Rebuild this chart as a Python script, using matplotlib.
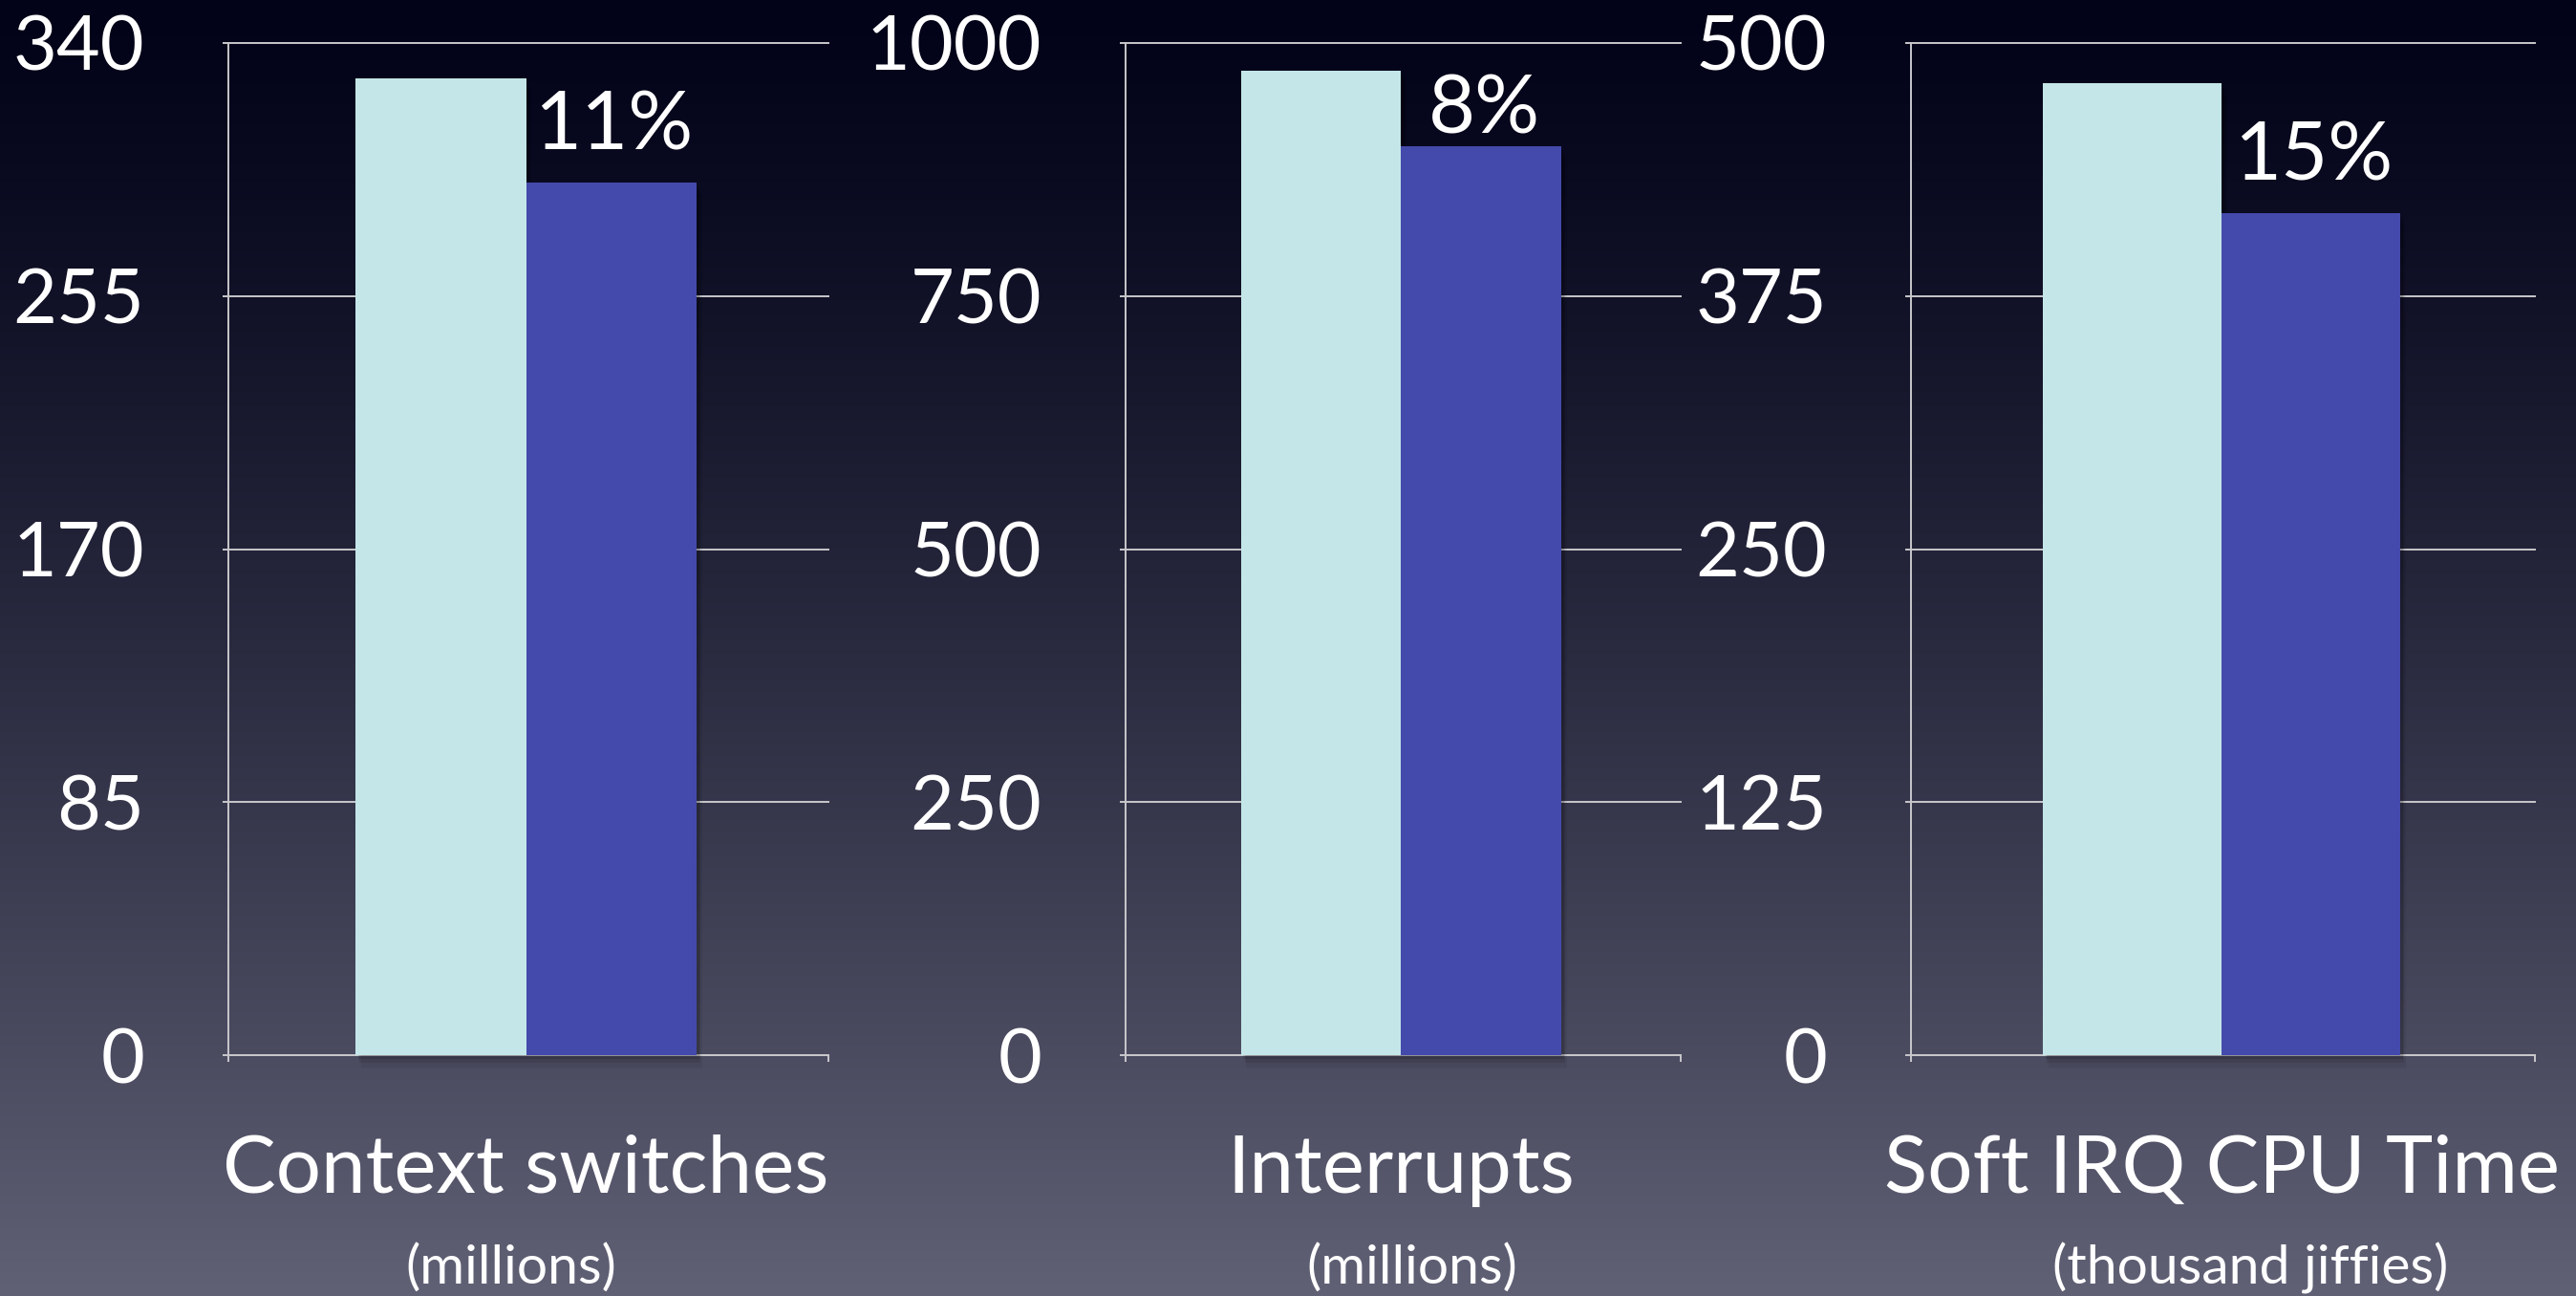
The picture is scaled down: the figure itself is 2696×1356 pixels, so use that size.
import numpy as np
import matplotlib
matplotlib.use("Agg")
import matplotlib.pyplot as plt
from matplotlib import patheffects
from matplotlib.transforms import blended_transform_factory

plt.rcParams['font.family'] = ['Lato', 'DejaVu Sans']

# values
panels = ["Context switches", "Interrupts", "Soft IRQ CPU Time"]
units = ["(millions)", "(millions)", "(thousand jiffies)"]
before = [328, 973, 480]
after = [293, 898, 416]
pct_labels = ["11%", "8%", "15%"]
y_max = [340, 1000, 500]
y_ticks = [[0, 85, 170, 255, 340],
           [0, 250, 500, 750, 1000],
           [0, 125, 250, 375, 500]]

light = "#c4e6e8"
dark = "#444aab"
grid_c = "#c8c8cc"

W, H = 2696, 1356
fig = plt.figure(figsize=(W / 100, H / 100), dpi=100)

# vertical background gradient, darker near the top
bg = fig.add_axes([0, 0, 1, 1], zorder=-10)
top_c = np.array([2, 2, 24]) / 255
bot_c = np.array([97, 97, 118]) / 255
t = np.linspace(0, 1, 512)[:, None] ** 1.25
grad = top_c * (1 - t) + bot_c * t
bg.imshow(grad[:, None, :], aspect='auto', extent=[0, 1, 0, 1])
bg.axis('off')

# layout (pixels) for each panel
axes_px = [(239, 867), (1178, 1759), (2000, 2653)]
ax_top, ax_bot = 45, 1104
xlims = [(-0.745, 2.773), (-0.718, 2.743), (-0.738, 2.754)]
pct_gap = [25, 10, 25]
sub_x = [0.91, 1.07, 1.16]

shadow = [patheffects.SimplePatchShadow(offset=(2, -3), shadow_rgbFace='black', alpha=0.12),
          patheffects.SimplePatchShadow(offset=(3, -6), shadow_rgbFace='black', alpha=0.10),
          patheffects.SimplePatchShadow(offset=(4, -9), shadow_rgbFace='black', alpha=0.06),
          patheffects.Normal()]

for i in range(3):
    l, r = axes_px[i]
    ax = fig.add_axes([l / W, (H - ax_bot) / H, (r - l) / W, (ax_bot - ax_top) / H])
    ax.patch.set_alpha(0)

    b1 = ax.bar([0.5], [before[i]], width=1.0, color=light, zorder=3, clip_on=False)
    b2 = ax.bar([1.5], [after[i]], width=1.0, color=dark, zorder=3, clip_on=False)
    for p in list(b1) + list(b2):
        p.set_path_effects(shadow)

    ax.set_xlim(*xlims[i])
    ax.set_ylim(0, y_max[i])
    ax.set_yticks(y_ticks[i])
    ax.set_yticklabels([str(v) for v in y_ticks[i]])
    ax.set_xticks(list(xlims[i]))
    ax.set_xticklabels([])

    ax.yaxis.grid(True, color=grid_c, lw=1.4)
    ax.set_axisbelow(True)
    for gl in ax.get_ygridlines():
        gl.set_clip_on(False)

    for s in ['top', 'right']:
        ax.spines[s].set_visible(False)
    for s in ['left', 'bottom']:
        ax.spines[s].set_color(grid_c)
        ax.spines[s].set_linewidth(1.4)

    ax.tick_params(axis='y', direction='out', length=4.3, width=1.4, color=grid_c,
                   labelcolor='white', labelsize=57, pad=59)
    ax.tick_params(axis='x', direction='out', length=5, width=1.4, color=grid_c)

    ax.annotate(pct_labels[i], xy=(1.5, after[i]), xytext=(2, pct_gap[i]),
                textcoords='offset points', ha='center', va='baseline',
                fontsize=61, color='white')

    trans = blended_transform_factory(ax.transData, fig.transFigure)
    ax.text(1.0, (H - 1248) / H, panels[i], transform=trans, ha='center',
            va='baseline', fontsize=60, color='white')
    ax.text(sub_x[i], (H - 1343) / H, units[i], transform=trans, ha='center',
            va='baseline', fontsize=41, color='white')

fig.savefig('out.png', dpi=100)
